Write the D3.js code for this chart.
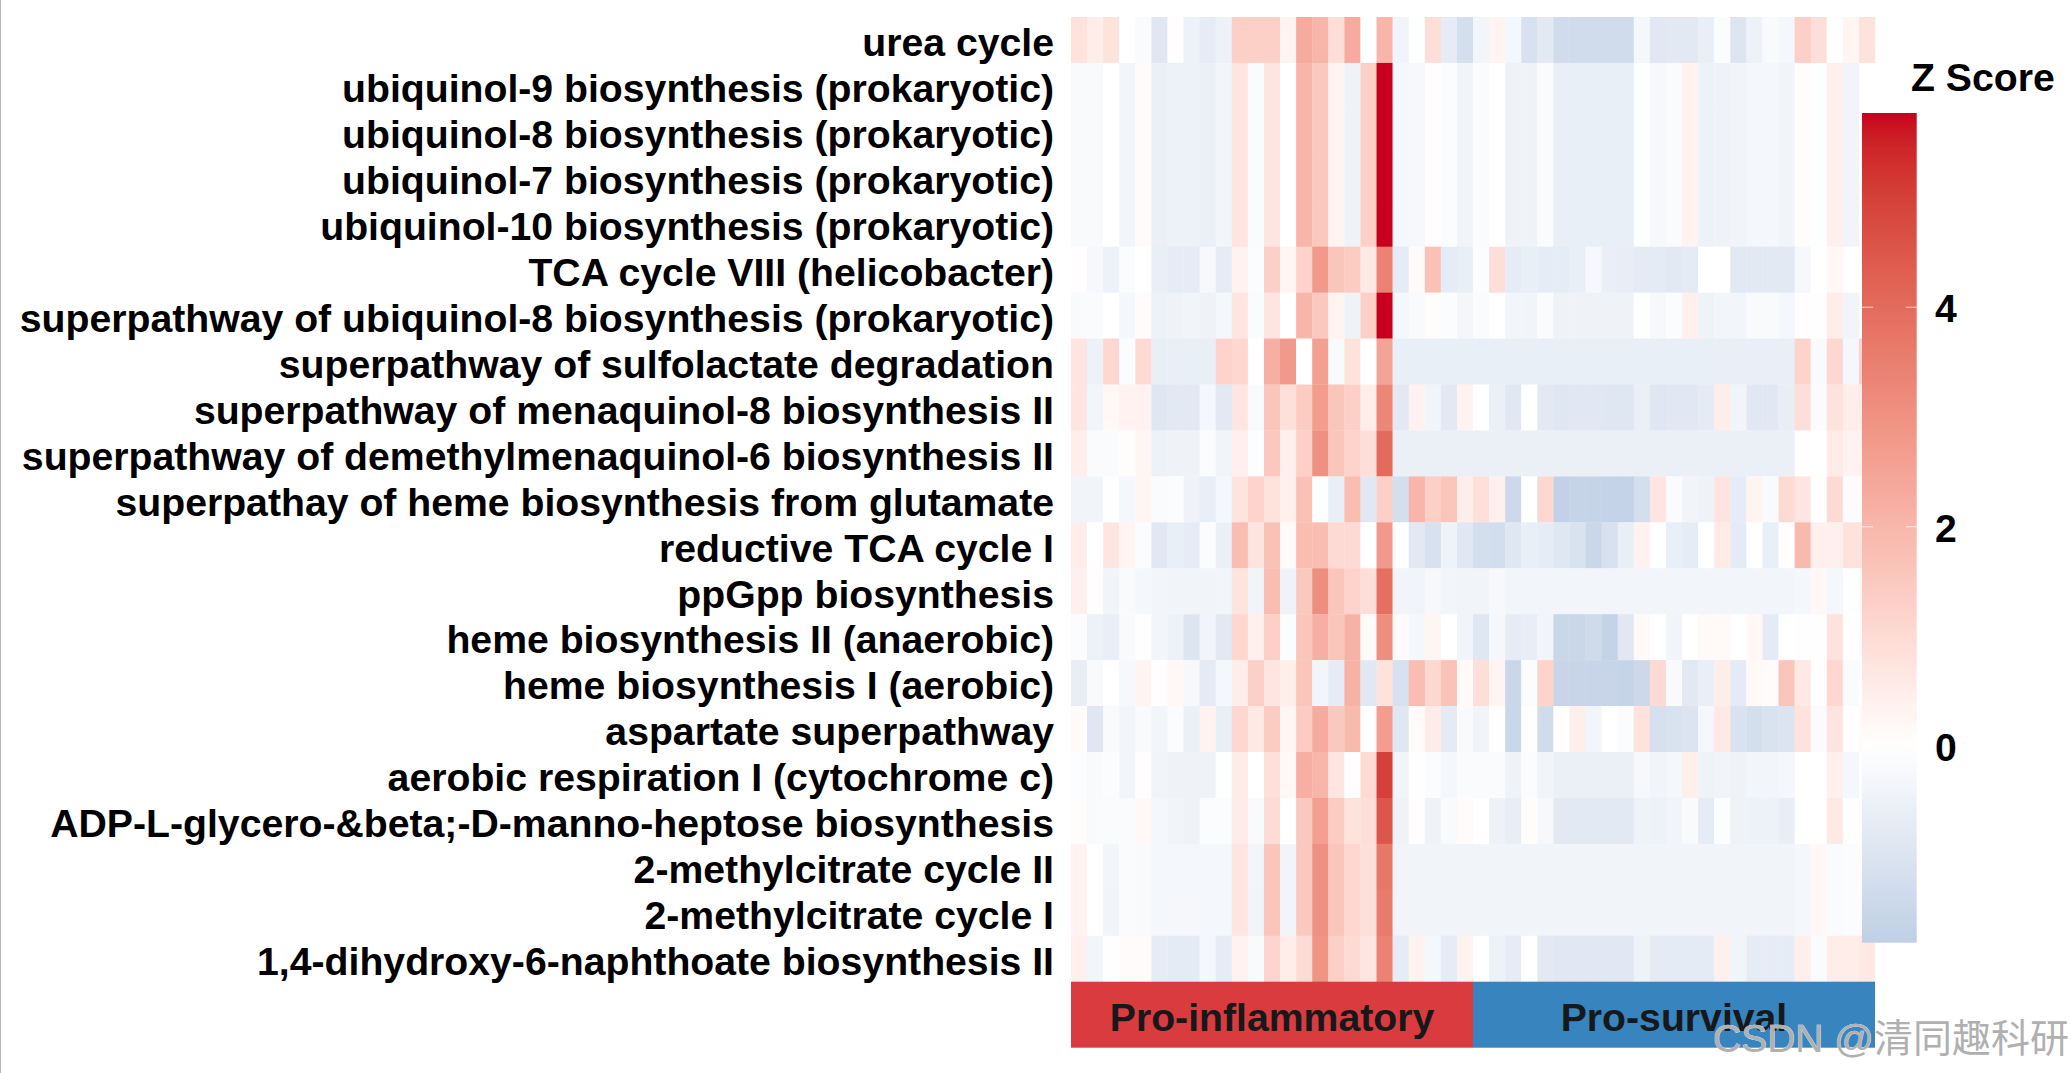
<!DOCTYPE html>
<html><head><meta charset="utf-8">
<script src="https://cdn.jsdelivr.net/npm/d3@7/dist/d3.min.js"></script>
<style>html,body{margin:0;padding:0;background:#fff;overflow:hidden}svg{display:block}text{font-family:"Liberation Sans",Arial,sans-serif;font-weight:700}</style>
</head><body><svg id="c" width="2071" height="1073"></svg>
<script>
const pathways=["urea cycle","ubiquinol-9 biosynthesis (prokaryotic)","ubiquinol-8 biosynthesis (prokaryotic)","ubiquinol-7 biosynthesis (prokaryotic)","ubiquinol-10 biosynthesis (prokaryotic)","TCA cycle VIII (helicobacter)","superpathway of ubiquinol-8 biosynthesis (prokaryotic)","superpathway of sulfolactate degradation","superpathway of menaquinol-8 biosynthesis II","superpathway of demethylmenaquinol-6 biosynthesis II","superpathay of heme biosynthesis from glutamate","reductive TCA cycle I","ppGpp biosynthesis","heme biosynthesis II (anaerobic)","heme biosynthesis I (aerobic)","aspartate superpathway","aerobic respiration I (cytochrome c)","ADP-L-glycero-&beta;-D-manno-heptose biosynthesis","2-methylcitrate cycle II","2-methylcitrate cycle I","1,4-dihydroxy-6-naphthoate biosynthesis II"];
const groups=["Pro-inflammatory","Pro-survival"];
const groupSizes=[25,25];
const legendTicks=[0,2,4];
const r00=[.8,.5,.8,0,-.15,-.9,.05,-.5,-.7,-.5,1.3,1.3,1.3,.3,2.3,2,.9,2.3,0,2,-.4,-.05,.9,-.7,-1.2,-.35,.3,-.3,-1.1,-.8,-1.3,-1.3,-1.3,-1.3,-1.3,-.3,-.85,-.8,-.8,-.6,-.1,-.95,-.5,-.2,-.3,1.3,.9,-.05,.25,.8];
const r01=[-.2,-.2,0,-.35,.1,-.55,-.5,-.5,-.55,-.35,.7,-.15,.7,0,2,1.5,.3,-.45,1.3,5.77,-.3,-.25,.05,-.1,-.38,-.15,0,-.45,-.45,-.15,-.6,-.6,-.6,-.6,-.6,-.05,-.25,-.15,.35,-.5,-.45,-.4,-.3,-.3,-.4,.08,-.05,.4,-.4,0];
const r02=[-.2,-.2,0,-.35,.1,-.55,-.5,-.5,-.55,-.35,.7,-.15,.7,0,2,1.5,.3,-.45,1.3,5.77,-.3,-.25,.05,-.1,-.38,-.15,0,-.45,-.45,-.15,-.6,-.6,-.6,-.6,-.6,-.05,-.25,-.15,.35,-.5,-.45,-.4,-.3,-.3,-.4,.08,-.05,.4,-.4,0];
const r03=[-.2,-.2,0,-.35,.1,-.55,-.5,-.5,-.55,-.35,.7,-.15,.7,0,2,1.5,.3,-.45,1.3,5.77,-.3,-.25,.05,-.1,-.38,-.15,0,-.45,-.45,-.15,-.6,-.6,-.6,-.6,-.6,-.05,-.25,-.15,.35,-.5,-.45,-.4,-.3,-.3,-.4,.08,-.05,.4,-.4,0];
const r04=[-.2,-.2,0,-.35,.1,-.55,-.5,-.5,-.55,-.35,.7,-.15,.7,0,2,1.5,.3,-.45,1.3,5.77,-.3,-.25,.05,-.1,-.38,-.15,0,-.45,-.45,-.15,-.6,-.6,-.6,-.6,-.6,-.05,-.25,-.15,.35,-.5,-.45,-.4,-.3,-.3,-.4,.08,-.05,.4,-.4,0];
const r05=[.05,-.25,-.5,-.1,0,-.6,-.7,-.7,-.25,-.7,.35,-.1,1.3,.25,1.2,2.8,1.6,1.4,.6,3.4,-.7,.1,1.7,-.7,-.6,-.1,.9,-.7,-.6,-.7,-.7,-.6,-.25,-.6,-.65,-.75,-.75,-.8,-.75,0,0,-.8,-.8,-.8,-.8,-.25,0,.2,0,0];
const r06=[-.2,-.15,0,-.3,.1,-.5,-.45,-.4,-.45,-.3,.7,-.15,.7,0,2,1.5,.3,-.45,1.3,5.77,-.3,-.2,.08,-.1,-.32,-.15,0,-.35,-.4,-.15,-.45,-.45,-.45,-.45,-.45,-.05,-.25,-.1,.4,-.45,-.35,-.35,-.2,-.2,-.3,.05,-.02,.5,-.4,0];
const r07=[.7,-.5,1.1,-.1,1,-.6,-.6,-.6,-.6,1.2,1.1,0,2.2,2.8,0,2.6,-.2,.8,0,2.5,-.6,-.6,-.6,-.6,-.6,-.6,-.6,-.6,-.6,-.6,-.6,-.6,-.6,-.6,-.6,-.6,-.6,-.6,-.6,-.6,-.6,-.6,-.6,-.6,-.6,1.2,-.2,1.1,-.3,1.2];
const r08=[.7,-.35,.2,.35,.35,-.9,-.8,-.8,-.3,-.8,.7,-.2,1.6,.85,1.4,2.7,1.6,1.3,.5,3.3,-.8,.35,-.4,-.8,.33,0,-.55,-.85,0,-.8,-.9,-.85,-.85,-.9,-.9,-.55,-.9,-.85,-.85,-.75,.5,-.4,-.85,-.85,-.65,.9,-.15,.8,.5,.5];
const r09=[.45,-.15,-.15,.08,.25,-.5,-.45,-.45,-.1,-.4,.4,-.08,1.5,.4,1.3,3,1.6,1.2,.9,4,-.55,-.55,-.55,-.55,-.55,-.55,-.55,-.55,-.55,-.55,-.55,-.55,-.55,-.55,-.55,-.55,-.55,-.55,-.55,-.55,-.55,-.55,-.55,-.55,-.55,.03,0,.55,.35,.35];
const r10=[-.4,-.4,.03,-.3,.25,-.15,-.12,-.45,-.6,-.3,.75,1.2,.8,.4,1.7,-.05,-.6,1.8,-.85,1.3,-1.2,2,1.3,1.6,.5,.85,.4,-1.4,0,1.1,-1.7,-1.6,-1.6,-1.65,-1.65,-1.2,.7,-.15,-.4,-.45,.75,-.7,.3,-.2,1,.7,0,1,-.1,.1];
const r11=[.5,0,.7,.3,-.12,-.85,-.6,-.7,-.1,-.55,1.8,.75,1.7,.12,1.8,1.8,1,1,0,2.8,0,-.8,-1.1,-.45,-.85,-1.2,-1.25,-.9,-.6,-.7,-.9,-1.05,-1.5,-1.1,-.6,.35,0,-.6,-.7,0,.55,-.75,0,-.6,.05,1.9,.4,.4,.8,.7];
const r12=[.4,.05,-.4,-.2,-.3,-.35,-.4,-.4,-.4,-.35,.75,-.4,1.8,-.45,1.5,3.1,1.6,1.2,.9,3.9,-.4,-.4,-.25,-.35,-.4,-.4,-.25,-.35,-.35,-.35,-.35,-.35,-.35,-.35,-.35,-.35,-.35,-.35,-.35,-.35,-.35,-.35,-.35,-.35,-.35,-.3,.2,-.3,-.05,.1];
const r13=[-.1,-.5,-.6,-.2,-.02,-.35,-.5,-.95,-.4,-.8,1.1,.4,1.3,-.1,1.6,2.2,1.6,2.1,.1,3.1,.1,-.3,.25,0,-.38,-.88,-.28,-.7,-.65,-.4,-1.5,-1.5,-1.35,-1.65,-.85,.15,0,-.4,0,.15,.15,0,.2,-.75,0,-.02,-.02,.8,0,0];
const r14=[-.65,-.2,0,-.25,.3,.05,.2,-.25,-.75,-.3,.5,1.3,.7,.45,1.6,-.35,-.7,2.1,-.85,.8,-1.1,1.8,1.1,1.65,.15,.9,.3,-1.5,-.1,1.2,-1.55,-1.55,-1.55,-1.55,-1.6,-1.4,1,-.2,-.8,-.6,.5,-.75,.15,.1,1.6,.6,0,1.1,-.15,-.05];
const r15=[.12,-.9,-.2,-.35,-.2,-.35,-.1,-.55,.35,-.6,1.1,.6,1.4,.25,1.4,2.3,1.5,1.9,0,2.7,-.9,.12,.55,-.75,-.18,-.4,-.03,-1.5,-.02,-1.3,.05,.45,-.35,0,-.12,.8,-1.15,-1.05,-1,-.3,.6,-1.05,-1.2,-1.05,-1,.8,-.15,.75,0,.1];
const r16=[-.08,-.2,-.1,-.35,.05,-.4,-.45,-.45,-.45,-.05,.55,0,.85,.2,2.2,2,.7,.05,1,5,-.4,.02,-.12,-.3,-.13,-.15,-.15,-.45,-.1,-.4,-.55,-.55,-.55,-.55,-.55,-.25,-.4,-.3,.45,-.45,-.4,-.45,-.35,-.35,-.3,0,0,.4,-.3,0];
const r17=[.08,-.2,-.15,-.15,.2,-.3,-.4,-.45,-.12,-.1,.55,-.2,.95,0,1.5,2.6,1.4,.8,.9,4.5,-.45,.05,-.45,-.2,.12,0,-.48,-.65,.06,-.25,-.8,-.8,-.8,-.8,-.8,-.45,-.5,-.4,-.2,-.7,-.08,-.45,-.5,-.5,-.65,0,0,.6,0,.05];
const r18=[.35,0,-.35,-.15,-.2,-.3,-.3,-.3,-.3,-.3,.7,-.35,1.6,-.4,1.5,3,1.6,1.1,.85,3.7,-.4,-.4,-.4,-.4,-.4,-.4,-.4,-.4,-.4,-.4,-.4,-.4,-.4,-.4,-.4,-.4,-.4,-.4,-.4,-.4,-.4,-.4,-.4,-.4,-.4,-.3,.2,-.15,-.1,.1];
const r19=[.35,0,-.4,-.15,-.2,-.3,-.28,-.28,-.3,-.3,.7,-.4,1.6,-.4,1.5,3,1.6,1.1,.85,3.6,-.4,-.4,-.4,-.4,-.4,-.4,-.4,-.4,-.4,-.4,-.4,-.4,-.4,-.4,-.4,-.4,-.4,-.4,-.4,-.4,-.4,-.4,-.4,-.4,-.4,-.3,.2,-.15,-.1,.1];
const r20=[.4,-.35,.03,.1,.12,-.7,-.75,-.75,-.3,-.7,.35,-.2,1.15,.5,.95,2.9,1.3,1,.7,3.4,-.7,.35,-.3,-.7,.35,0,-.5,-.7,0,-.8,-.85,-.85,-.85,-.85,-.85,-.45,-.75,-.75,-.75,-.75,.4,-.4,-.7,-.7,-.7,.45,-.15,.5,.5,.6];
const matrix=[r00,r01,r02,r03,r04,r05,r06,r07,r08,r09,r10,r11,r12,r13,r14,r15,r16,r17,r18,r19,r20];

const W=2071,H=1073;
const svg=d3.select("#c");
const nCol=matrix[0].length;
const x=d3.scaleLinear().domain([0,nCol]).range([1071,1875]);
const y=d3.scaleBand().domain(pathways).range([17,981.7]);
const zMin=-1.79,zMax=5.77;
const color=d3.scaleLinear().domain([zMin,0,zMax]).range(["#BFCFE5","#FFFFFF","#C8001E"]).interpolate(d3.interpolateLab);

svg.append("rect").attr("x",0).attr("y",0).attr("width",W).attr("height",H).attr("fill","#fff");
svg.append("rect").attr("x",0).attr("y",0).attr("width",1).attr("height",H).attr("fill","#b5b5b5");

const cells=[];
matrix.forEach((row,i)=>row.forEach((v,j)=>cells.push({i,j,v})));
svg.append("g").selectAll("rect").data(cells).join("rect")
 .attr("x",d=>x(d.j)).attr("width",d=>x(d.j+1)-x(d.j)+.3)
 .attr("y",d=>y(pathways[d.i])).attr("height",y.bandwidth()+.3)
 .attr("fill",d=>color(d.v));

svg.append("g").selectAll("text").data(pathways).join("text")
 .attr("x",1054).attr("y",d=>y(d)+y.bandwidth()/2+2.2).attr("dy","0.36em")
 .attr("text-anchor","end").attr("font-size",39.2).attr("fill","#000").text(d=>d);

// annotation bar
let start=0;
const groupData=groups.map((g,k)=>{const d={g,a:start,b:start+groupSizes[k],k};start+=groupSizes[k];return d;});
const groupColor=d3.scaleOrdinal().domain(groups).range(["#D93B3F","#3784BE"]);
svg.append("g").selectAll("rect").data(groupData).join("rect")
 .attr("x",d=>x(d.a)).attr("width",d=>x(d.b)-x(d.a)).attr("y",981.7).attr("height",66)
 .attr("fill",d=>groupColor(d.g));
svg.append("g").selectAll("text").data(groupData).join("text")
 .attr("x",d=>(x(d.a)+x(d.b))/2).attr("y",1016.5).attr("dy","0.36em").attr("text-anchor","middle")
 .attr("font-size",39.2).attr("fill","#17181a").text(d=>d.g);

// colour legend
const legendY=d3.scaleLinear().domain([zMin,zMax]).range([942.7,113]);
const defs=svg.append("defs");
const grad=defs.append("linearGradient").attr("id","lg").attr("x1",0).attr("x2",0).attr("y1",1).attr("y2",0);
d3.range(0,1.0001,.02).forEach(t=>{const v=zMin+t*(zMax-zMin);grad.append("stop").attr("offset",t).attr("stop-color",color(v));});
svg.append("rect").attr("x",1862).attr("width",54.7).attr("y",legendY(zMax)).attr("height",legendY(zMin)-legendY(zMax)).attr("fill","url(#lg)");
const ticks=svg.append("g").selectAll("g").data(legendTicks).join("g");
ticks.append("line").attr("x1",1862).attr("x2",1873).attr("y1",d=>legendY(d)).attr("y2",d=>legendY(d)).attr("stroke","#fff").attr("stroke-opacity",.7).attr("stroke-width",1);
ticks.append("line").attr("x1",1905.7).attr("x2",1916.7).attr("y1",d=>legendY(d)).attr("y2",d=>legendY(d)).attr("stroke","#fff").attr("stroke-opacity",.7).attr("stroke-width",1);
ticks.append("text").attr("x",1935).attr("y",d=>legendY(d)+1).attr("dy","0.36em").attr("font-size",39.2).attr("fill","#000").text(d=>d);
svg.append("text").attr("x",1911).attr("y",91).attr("font-size",39.2).attr("fill","#000").text("Z Score");

// watermark
svg.append("text").attr("x",1713).attr("y",1052).attr("font-size",39)
 .attr("fill","#b0b0b0").attr("stroke","#fff").attr("stroke-width",.6).attr("paint-order","stroke")
 .style("font-family",'"Liberation Sans","Noto Sans CJK SC",sans-serif').style("font-weight",400)
 .text("CSDN @清同趣科研");
</script></body></html>
